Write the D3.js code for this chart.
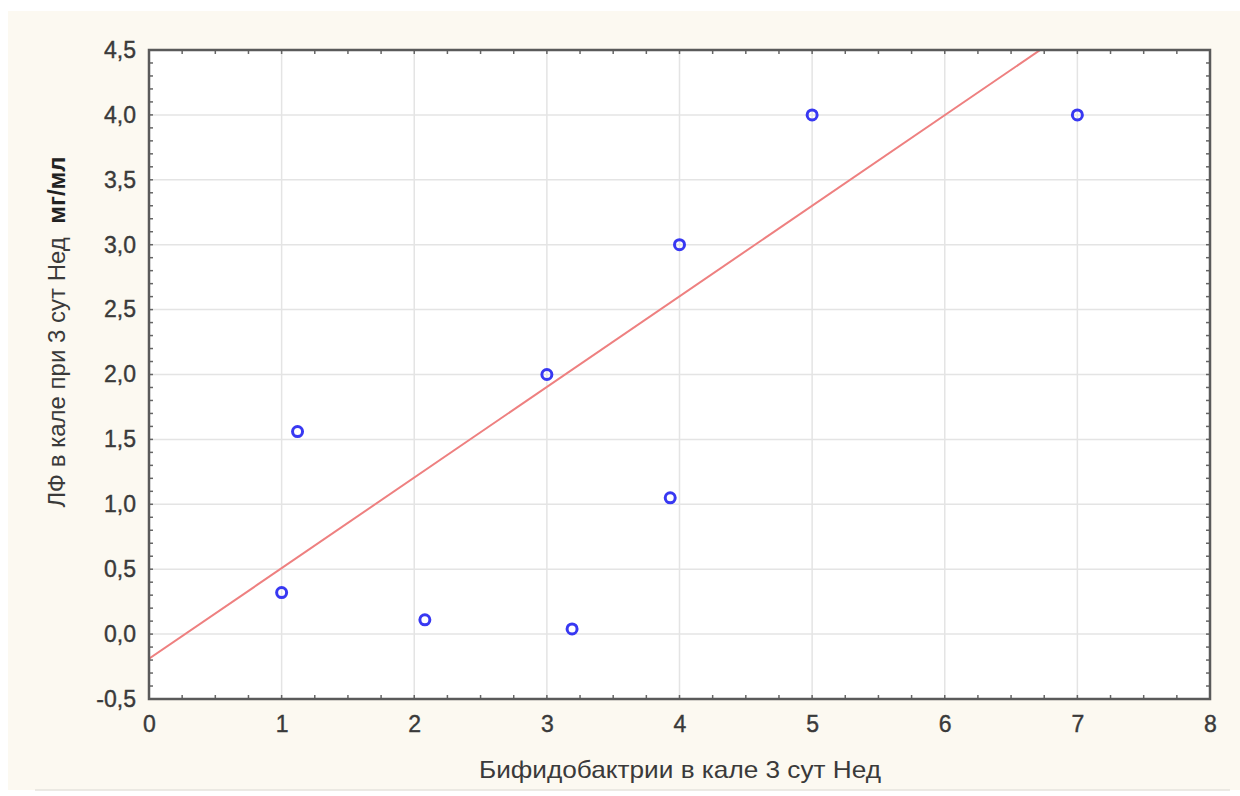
<!DOCTYPE html>
<html>
<head>
<meta charset="utf-8">
<script src="https://cdn.jsdelivr.net/npm/d3@7"></script>
<style>
  body { margin: 0; background: #fff; }
  svg { display: block; font-family: 'Liberation Sans', Arial, sans-serif; }
</style>
</head>
<body>
<script>
// data
const bifido = [1.0, 1.12, 2.08, 3.0, 3.19, 3.93, 4.0, 5.0, 7.0]
const lf = [0.32, 1.56, 0.11, 2.0, 0.04, 1.05, 3.0, 4.0, 4.0]
const fitIntercept = -0.19
const fitSlope = 0.698

const xTicks = [0, 1, 2, 3, 4, 5, 6, 7, 8]
const yTicks = [-0.5, 0, 0.5, 1, 1.5, 2, 2.5, 3, 3.5, 4, 4.5]

const xTitle = 'Бифидобактрии в кале 3 сут Нед'
const yTitle = 'ЛФ в кале при 3 сут Нед'
const yUnit = 'мг/мл'

const width = 1240
const height = 796
const margin = { left: 149, top: 50, right: 30, bottom: 97 }
const innerWidth = width - margin.left - margin.right
const innerHeight = height - margin.top - margin.bottom

const svg = d3.select('body').append('svg')
  .attr('width', width)
  .attr('height', height)

// cream backdrop
svg.append('rect')
  .attr('x', 8).attr('y', 11)
  .attr('width', width - 8).attr('height', 779)
  .attr('fill', '#fcf9f1')
svg.append('line')
  .attr('x1', 35).attr('x2', width - 10)
  .attr('y1', 790).attr('y2', 790)
  .attr('stroke', '#e6e3dc').attr('stroke-width', 1.5)

const g = svg.append('g')
  .attr('transform', `translate(${margin.left},${margin.top})`)

const xScale = d3.scaleLinear().domain([0, 8]).range([0, innerWidth])
const yScale = d3.scaleLinear().domain([-0.5, 4.5]).range([innerHeight, 0])

g.append('rect')
  .attr('width', innerWidth).attr('height', innerHeight)
  .attr('fill', '#fff')

// grid
g.append('g').selectAll('line')
  .data(xTicks.slice(1, -1))
  .join('line')
  .attr('x1', d => xScale(d)).attr('x2', d => xScale(d))
  .attr('y1', 0).attr('y2', innerHeight)
  .attr('stroke', '#e4e4e4').attr('stroke-width', 1.5)

g.append('g').selectAll('line')
  .data(yTicks.slice(1, -1))
  .join('line')
  .attr('y1', d => yScale(d)).attr('y2', d => yScale(d))
  .attr('x1', 0).attr('x2', innerWidth)
  .attr('stroke', '#e4e4e4').attr('stroke-width', 1.5)

// minor ticks (inward) on all four sides
const xMinor = d3.range(1, 32).map(i => i * 0.25)
const yMinor = d3.range(1, 50).map(i => -0.5 + i * 0.1)

const tickLines = g.append('g').attr('stroke', '#666').attr('stroke-width', 1.5)
xMinor.forEach(v => {
  tickLines.append('line')
    .attr('x1', xScale(v)).attr('x2', xScale(v))
    .attr('y1', innerHeight).attr('y2', innerHeight - 4)
  tickLines.append('line')
    .attr('x1', xScale(v)).attr('x2', xScale(v))
    .attr('y1', 0).attr('y2', 4)
})
yMinor.forEach(v => {
  tickLines.append('line')
    .attr('y1', yScale(v)).attr('y2', yScale(v))
    .attr('x1', 0).attr('x2', 4)
  tickLines.append('line')
    .attr('y1', yScale(v)).attr('y2', yScale(v))
    .attr('x1', innerWidth).attr('x2', innerWidth - 4)
})

// fit line, clipped to the plot
g.append('clipPath').attr('id', 'clip')
  .append('rect').attr('width', innerWidth).attr('height', innerHeight)

g.append('line')
  .attr('clip-path', 'url(#clip)')
  .attr('x1', xScale(0)).attr('y1', yScale(fitIntercept))
  .attr('x2', xScale(8)).attr('y2', yScale(fitIntercept + fitSlope * 8))
  .attr('stroke', '#ee8080').attr('stroke-width', 2)

// frame
g.append('rect')
  .attr('width', innerWidth).attr('height', innerHeight)
  .attr('fill', 'none').attr('stroke', '#5a5a5a').attr('stroke-width', 2.5)

// points
g.append('g').selectAll('circle')
  .data(bifido.map((x, i) => ({ x, y: lf[i] })))
  .join('circle')
  .attr('cx', d => xScale(d.x))
  .attr('cy', d => yScale(d.y))
  .attr('r', 5)
  .attr('fill', 'none')
  .attr('stroke', '#3838f2')
  .attr('stroke-width', 3)

// axes labels
const fmt = d3.format('.1f')
const xAxis = d3.axisBottom(xScale).tickValues(xTicks).tickSize(0).tickPadding(17)
const yAxis = d3.axisLeft(yScale).tickValues(yTicks).tickSize(0).tickPadding(13)
  .tickFormat(d => fmt(d).replace('.', ',').replace('−', '-'))

const xAxisG = g.append('g')
  .attr('transform', `translate(0,${innerHeight})`)
  .call(xAxis)
const yAxisG = g.append('g').call(yAxis)

;[xAxisG, yAxisG].forEach(a => {
  a.attr('font-size', 23)
    .attr('font-family', "'Liberation Sans', Arial, sans-serif")
    .attr('fill', '#3a3a3a')
  a.select('.domain').remove()
  a.selectAll('text')
    .attr('fill', '#3a3a3a')
    .attr('stroke', '#3a3a3a')
    .attr('stroke-width', 0.4)
})

svg.append('text')
  .attr('x', 680)
  .attr('y', 778)
  .attr('text-anchor', 'middle')
  .attr('fill', '#3a3a3a')
  .attr('textLength', 402)
  .attr('lengthAdjust', 'spacingAndGlyphs')
  .attr('font-size', 24)
  .text(xTitle)

const yTitleText = svg.append('text')
  .attr('transform', 'translate(65,332) rotate(-90)')
  .attr('text-anchor', 'middle')
  .attr('fill', '#3a3a3a')
  .attr('font-size', 24)
  .style('white-space', 'pre')
yTitleText.append('tspan').text(yTitle + '  ')
yTitleText.append('tspan').attr('font-weight', 'bold').attr('fill', '#222').text(yUnit)
</script>
</body>
</html>
